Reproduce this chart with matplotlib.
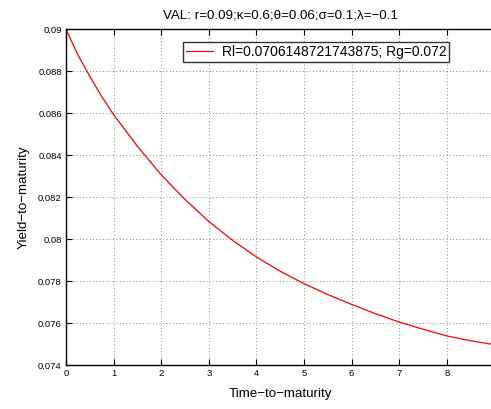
import matplotlib
matplotlib.use("Agg")
import matplotlib.pyplot as plt

# values
maturity = [0, 0.25, 0.5, 0.75, 1, 1.5, 2, 2.5, 3, 3.5, 4, 4.5, 5, 5.5,
            6, 6.5, 7, 7.5, 8, 8.5, 8.93]
yield_ = [0.09, 0.08878, 0.08776, 0.08680, 0.08594, 0.08443, 0.08307,
          0.08190, 0.08085, 0.07995, 0.07916, 0.07848, 0.07789, 0.07737,
          0.07690, 0.07646, 0.07606, 0.07572, 0.07540, 0.07517, 0.07501]

x_ticks = [0, 1, 2, 3, 4, 5, 6, 7, 8]
y_ticks = [0.074, 0.076, 0.078, 0.08, 0.082, 0.084, 0.086, 0.088, 0.09]
y_tick_labels = ["0.074", "0.076", "0.078", "0.08", "0.082", "0.084",
                 "0.086", "0.088", "0.09"]

legend_label = "Rl=0.0706148721743875; Rg=0.072"
title = "VAL: r=0.09;\u03ba=0.6;\u03b8=0.06;\u03c3=0.1;\u03bb=\u22120.1"

plt.rcParams["font.family"] = ["Liberation Sans", "DejaVu Sans"]

fig = plt.figure(figsize=(4.91, 4.09), dpi=100)
ax = fig.add_axes([0.1344, 0.1068, 0.8725, 0.8216])

ax.plot(maturity, yield_, color="red", linewidth=0.9, label=legend_label)

ax.set_xlim(0, 9)
ax.set_ylim(0.074, 0.09)
ax.set_xticks(x_ticks)
ax.set_xticklabels([str(v) for v in x_ticks])
ax.set_yticks(y_ticks)
ax.set_yticklabels(y_tick_labels)

ax.grid(True, linestyle=(0, (1, 3)), color="#666666", linewidth=0.6)
ax.tick_params(direction="in", length=4, width=0.8, labelsize=6.8,
               top=True, right=False, pad=3)
for sp in ax.spines.values():
    sp.set_linewidth(1.0)
    sp.set_color("black")

ax.set_title(title, fontsize=9.6, pad=8)
ax.set_xlabel("Time\u2212to\u2212maturity", fontsize=9.6, labelpad=7)
ax.set_ylabel("Yield\u2212to\u2212maturity", fontsize=9.6, labelpad=6)

leg = ax.legend(loc="upper left", bbox_to_anchor=(0.273, 0.962),
                fontsize=10, frameon=True, fancybox=False,
                handlelength=2.0, borderpad=0.2, handletextpad=0.6,
                borderaxespad=0)
leg.get_frame().set_edgecolor("black")
leg.get_frame().set_linewidth(1.0)

fig.savefig("out.png", dpi=100)
